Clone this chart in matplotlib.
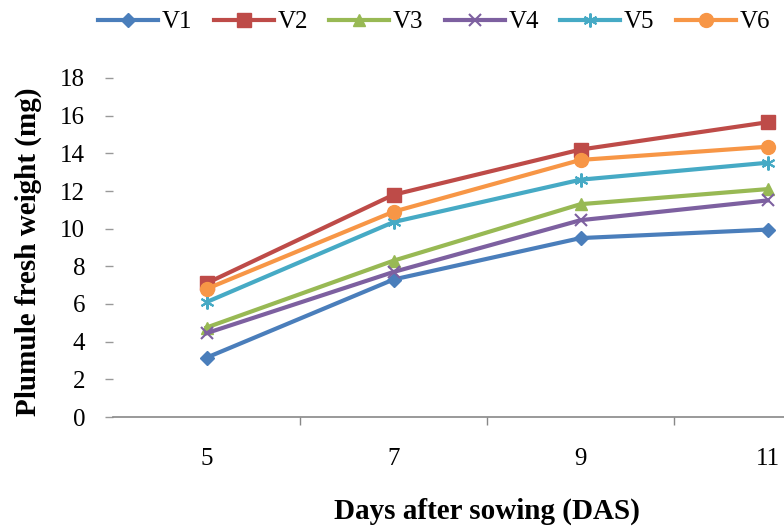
import numpy as np
import matplotlib
matplotlib.use("Agg")
import matplotlib.pyplot as plt

days = ["5", "7", "9", "11"]
series_names = ["V1", "V2", "V3", "V4", "V5", "V6"]
v1 = [3.15, 7.3, 9.5, 9.95]
v2 = [7.1, 11.8, 14.2, 15.65]
v3 = [4.75, 8.3, 11.3, 12.1]
v4 = [4.45, 7.7, 10.45, 11.5]
v5 = [6.1, 10.35, 12.6, 13.5]
v6 = [6.8, 10.9, 13.65, 14.35]
y_ticks = [0, 2, 4, 6, 8, 10, 12, 14, 16, 18]

colors = ["#4A7EBB", "#BE4B48", "#98B954", "#7D60A0", "#46AAC5", "#F79646"]
markers = ["D", "s", "^", "x", (6, 2, 0), "o"]
sizes = [7, 10, 9, 8, 10, 10]

plt.rcParams["font.family"] = ["Liberation Serif", "DejaVu Serif"]

fig = plt.figure(figsize=(7.84, 5.29), dpi=100)
# plot area runs past the right edge of the figure
ax = fig.add_axes([113 / 784, (529 - 417) / 529, 748 / 784, 339 / 529])

x = np.arange(len(days))
handles = []
for name, vals, c, m, s in zip(series_names, [v1, v2, v3, v4, v5, v6], colors, markers, sizes):
    h, = ax.plot(x, vals, color=c, linewidth=3, marker=m, markersize=s,
                 markeredgewidth=1.5 if m in ("x",) or isinstance(m, tuple) else 1,
                 markeredgecolor=c, markerfacecolor=c, label=name, clip_on=False)
    handles.append(h)

ax.set_xlim(-0.5, 3.5)
ax.set_ylim(0, 18)
ax.set_yticks(y_ticks)
ax.set_yticklabels([str(t) for t in y_ticks], fontsize=18)
ax.set_xticks(x)
ax.set_xticklabels(days, fontsize=18)
ax.set_xticks(x[:-1] + 0.5, minor=True)
ax.tick_params(axis="x", which="major", length=0, pad=22)
ax.tick_params(axis="x", which="minor", length=6, color="#888888", width=1)
ax.tick_params(axis="y", length=6, color="#999999", width=1, pad=14)

for side in ["top", "right", "left"]:
    ax.spines[side].set_visible(False)
ax.spines["bottom"].set_color("#888888")
ax.spines["bottom"].set_linewidth(1.2)

ax.set_xlabel("Days after sowing (DAS)", fontsize=21, fontweight="bold", labelpad=20)
fig.text(28 / 784, 1 - 252 / 529, "Plumule fresh weight (mg)", rotation=90,
         fontsize=21, fontweight="bold", ha="center", va="center")

fig.legend(handles=handles, loc="center", bbox_to_anchor=(434 / 784, 1 - 22 / 529),
           ncol=6, frameon=False, fontsize=18, handlelength=2.4, handletextpad=0.15,
           columnspacing=0.85)

fig.savefig("out.png", dpi=100)
